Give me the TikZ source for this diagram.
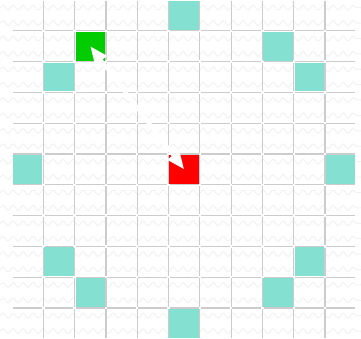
\documentclass[tikz,border=0pt]{standalone}
\usetikzlibrary{arrows.meta, decorations.pathmorphing}
\definecolor{hitteal}{HTML}{84E0D1}
\definecolor{srcgreen}{HTML}{00CC00}
\definecolor{dstred}{HTML}{FF0000}

\begin{document}
\begin{tikzpicture}[x=1pt, y=-1pt,
      wave/.style={draw=gray!10, line width=1pt, decorate,
        decoration={snake, segment length=10pt, amplitude=2.4pt}},
      gridln/.style={draw=gray!40, line width=1.2pt},
      cell/.style={inner sep=0pt, minimum width=29.4pt, minimum height=28.9pt},
      hit/.style={cell, fill=hitteal},
      arr/.style={{Triangle[width=14pt,length=18pt]}-{Triangle[width=14pt,length=18pt]},
        white, line width=4pt},
    ]
    \useasboundingbox (0,0) rectangle (361,338);
    % --- faint wavy background ----------------------------------------
    \foreach \k in {0,...,21} {
      \draw[wave] (0,{7.7+15.4*\k}) -- (361,{7.7+15.4*\k});
    }
    % --- grid lines, broken at the crossings --------------------------
    \foreach \i in {1,...,10} {
      \foreach \j in {0,...,10} {
        \draw[gridln] ({12+31.3*\i},{30.8*\j+1.2}) -- ({12+31.3*\i},{30.8*(\j+1)-1.2});
        \draw[gridln] ({12+31.3*\j+1.2},{30.8*\i}) -- ({12+31.3*(\j+1)-1.2},{30.8*\i});
      }
    }
    % --- reachable cells ----------------------------------------------
    \foreach \c/\r [count=\n] in {5/0, 8/1, 9/2, 10/5, 9/8, 8/9, 5/10, 2/9, 1/8, 0/5, 1/2} {
      \node[hit] (hit\n) at ({12+31.3*(\c+0.5)},{30.8*(\r+0.5)}) {};
    }
    % --- start and target cells ---------------------------------------
    \node[cell, fill=srcgreen] (src) at ({12+31.3*2.5},{30.8*1.5}) {};
    \node[cell, fill=dstred] (dst) at ({12+31.3*5.5},{30.8*5.5}) {};
    \draw[arr] (src.center) -- (dst.center);
  \end{tikzpicture}
\end{document}
